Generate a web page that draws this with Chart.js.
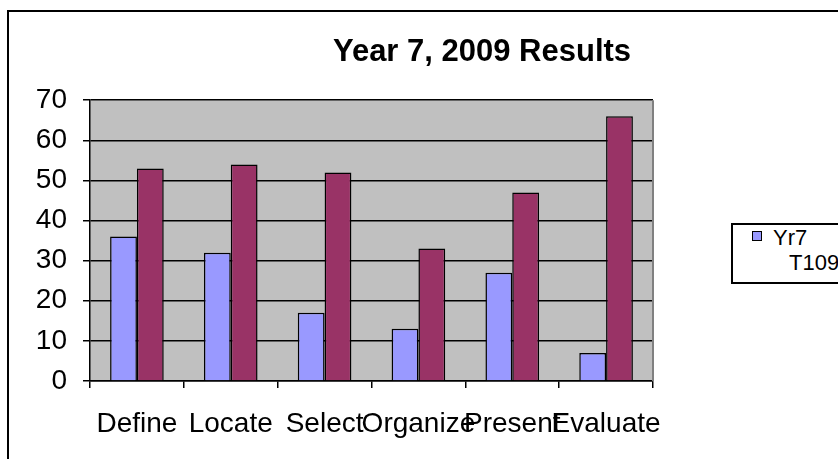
<!DOCTYPE html>
<html>
<head>
<meta charset="utf-8">
<script src="https://cdn.jsdelivr.net/npm/chart.js@4"></script>
<style>
  html, body { margin: 0; padding: 0; background: #fff; overflow: hidden; width: 838px; height: 459px; }
  .frame { position: absolute; left: 7px; top: 10px; width: 1000px; height: 1000px; border: 2px solid #000; }
  #chart { position: absolute; left: 8px; top: 11px; }
  .legend { position: absolute; left: 731px; top: 223px; width: 140px; height: 57px; border: 2px solid #000; background: #fff;
    font-family: "Liberation Sans", Arial, sans-serif; font-size: 22px; color: #000; }
  .legend .item { position: absolute; white-space: nowrap; line-height: 24px; }
  .legend .swatch { position: absolute; width: 8px; height: 8px; border: 1px solid #000; }
</style>
</head>
<body>
<div class="frame"></div>
<canvas id="chart" width="948" height="448"></canvas>
<div class="legend" id="legend"></div>
<script>
const categories = ['Define', 'Locate', 'Select', 'Organize', 'Present', 'Evaluate'];
const seriesNames = ['Yr7', 'T109'];
const yr7Values = [36, 32, 17, 13, 27, 7];
const t109Values = [53, 54, 52, 33, 47, 66];
const seriesColors = ['#9999FF', '#993366'];
const yTicks = [0, 10, 20, 30, 40, 50, 60, 70];

const FONT = '"Liberation Sans", Arial, sans-serif';
Chart.defaults.color = '#000';
Chart.defaults.font.family = FONT;

// grey plot area with a grey frame on the right, like the old Excel look
const plotArea = {
  id: 'plotArea',
  beforeDraw(chart) {
    const { ctx, chartArea: a } = chart;
    ctx.save();
    ctx.fillStyle = '#C0C0C0';
    ctx.fillRect(a.left, a.top, a.right - a.left, a.bottom - a.top);
    ctx.restore();
  },
  beforeDatasetsDraw(chart) {
    const { ctx, chartArea: a } = chart;
    ctx.save();
    ctx.strokeStyle = '#808080';
    ctx.lineWidth = 2;
    ctx.beginPath();
    ctx.moveTo(a.right, a.top);
    ctx.lineTo(a.right, a.bottom);
    ctx.stroke();
    ctx.restore();
  }
};

new Chart(document.getElementById('chart'), {
  type: 'bar',
  data: {
    labels: categories,
    datasets: [
      { label: seriesNames[0], data: yr7Values, backgroundColor: seriesColors[0] },
      { label: seriesNames[1], data: t109Values, backgroundColor: seriesColors[1] }
    ]
  },
  options: {
    responsive: false,
    animation: false,
    layout: { padding: 0 },
    datasets: {
      bar: {
        categoryPercentage: 2 / 3.5,
        barPercentage: 1,
        borderColor: '#000',
        borderWidth: 1.5
      }
    },
    plugins: {
      legend: { display: false },
      tooltip: { enabled: false },
      title: {
        display: true,
        text: 'Year 7, 2009 Results',
        font: { size: 31, weight: 'bold', family: FONT },
        color: '#000',
        padding: { top: 23, bottom: 29 }
      }
    },
    scales: {
      x: {
        grid: { drawOnChartArea: false, drawTicks: true, tickLength: 7, color: '#000', lineWidth: 1.5 },
        border: { color: '#000', width: 1.5 },
        ticks: { autoSkip: false, maxRotation: 0, minRotation: 0, padding: 19, font: { size: 28 } },
        afterFit(scale) { scale.height = 78; }
      },
      y: {
        min: 0,
        max: 70,
        afterBuildTicks(scale) { scale.ticks = yTicks.map(v => ({ value: v })); },
        grid: { color: '#000', lineWidth: 1.5, tickLength: 7 },
        border: { color: '#000', width: 1.5 },
        ticks: { padding: 16, font: { size: 28 } },
        afterFit(scale) { scale.width = 82; }
      },
      // empty space on the right where the legend sits
      space: {
        type: 'linear',
        position: 'right',
        display: true,
        grid: { display: false },
        border: { display: false },
        ticks: { display: false },
        afterFit(scale) { scale.width = 303; }
      }
    }
  },
  plugins: [plotArea]
});

// legend box (the reference only shows the swatch of the first series)
const legend = document.getElementById('legend');
seriesNames.forEach((name, i) => {
  const item = document.createElement('div');
  item.className = 'item';
  item.textContent = name;
  item.style.left = (i === 0 ? 40 : 56) + 'px';
  item.style.top = (i === 0 ? 1 : 26) + 'px';
  legend.appendChild(item);
  if (i === 0) {
    const sw = document.createElement('div');
    sw.className = 'swatch';
    sw.style.background = seriesColors[i];
    sw.style.left = '19px';
    sw.style.top = '6px';
    legend.appendChild(sw);
  }
});
</script>
</body>
</html>
